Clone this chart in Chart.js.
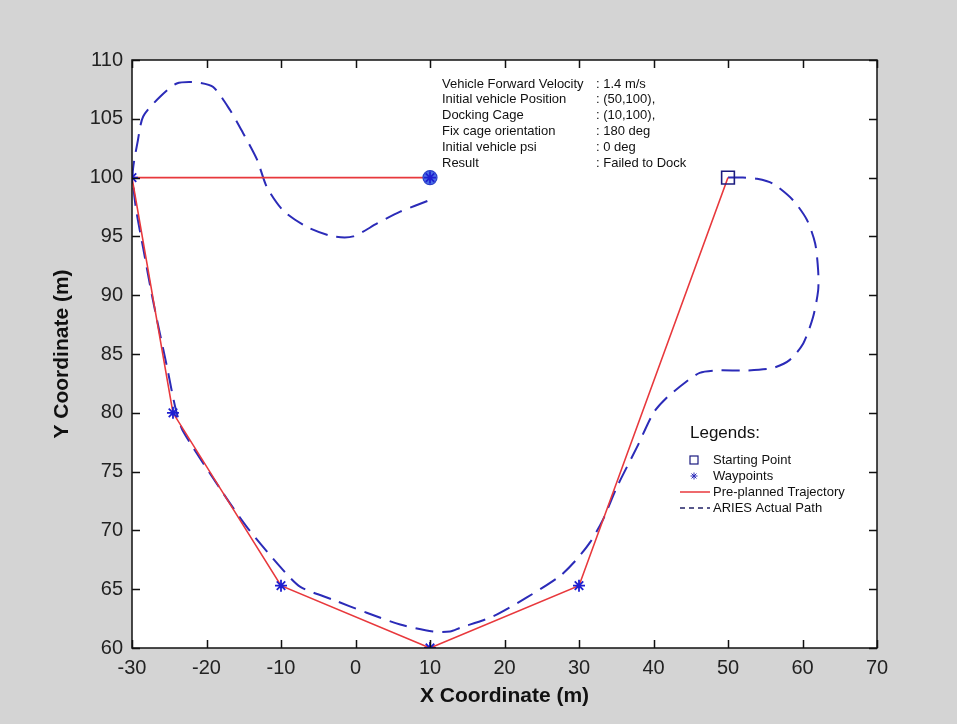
<!DOCTYPE html>
<html>
<head>
<meta charset="utf-8">
<title>ARIES docking run</title>
<script src="https://cdn.jsdelivr.net/npm/chart.js@4"></script>
<style>
  html, body { margin: 0; padding: 0; background: #d4d4d4; }
  #wrap { width: 957px; height: 724px; }
</style>
</head>
<body>
<div id="wrap"><canvas id="traj" width="957" height="724"></canvas></div>
<script>
// pre-planned trajectory (start -> waypoints -> docking cage)
var planX = [50, 30, 10, -10, -24.5, -30, 10];
var planY = [100, 65.3, 60, 65.3, 80, 100, 100];

// waypoints
var wayX = [30, 10, -10, -24.5, -30];
var wayY = [65.3, 60, 65.3, 80, 100];

var startX = [50], startY = [100];
var dockX = [10], dockY = [100];

// actual path logged by the vehicle
var pathX = [50, 52, 53.9, 56.0, 58.7, 60.6, 61.7, 62.1, 62.1, 61.4, 60.1, 58.3, 56.0, 52.5, 48.5, 46.2,
  44.3, 41.8, 40.0, 37.8, 35.1, 33.2, 31.5, 29.5, 27.4, 23.0, 18.5, 14.0, 12.7, 10.4, 6.0, 1.5, -3.0,
  -7.4, -10.1, -14.6, -17.8, -23.2, -24.2, -25.3, -27.2, -28.5, -29.5, -29.9, -29.2, -28.5, -26.2,
  -24.0, -21.3, -19.1, -16.8, -15.1, -13.2, -11.9, -9.7, -6.5, -3.0, -0.3, 2.9, 6.0, 10.0];
var pathY = [100, 100, 99.9, 99.5, 98.1, 96.4, 94.4, 92.1, 90.4, 88.1, 85.9, 84.5, 83.8, 83.6, 83.6, 83.4,
  82.6, 81.3, 80.0, 77.1, 73.7, 70.9, 69.0, 67.4, 66.1, 64.3, 62.7, 61.7, 61.4, 61.4, 62.0, 63.0, 64.1,
  65.2, 66.9, 70.3, 73.2, 78.5, 80.5, 83.9, 89.6, 94.0, 97.5, 100.4, 103.2, 105.2, 106.9,
  108.0, 108.1, 107.7, 105.7, 103.8, 101.5, 99.2, 97.2, 95.8, 95.0, 95.0, 96.1, 97.1, 98.1];

var xTicks = [-30, -20, -10, 0, 10, 20, 30, 40, 50, 60, 70];
var yTicks = [60, 65, 70, 75, 80, 85, 90, 95, 100, 105, 110];

var infoLabels = ['Vehicle Forward Velocity', 'Initial vehicle Position', 'Docking Cage',
  'Fix cage orientation', 'Initial vehicle psi', 'Result'];
var infoValues = [': 1.4 m/s', ': (50,100),', ': (10,100),', ': 180 deg', ': 0 deg', ': Failed to Dock'];

var legendLabels = ['Starting Point', 'Waypoints', 'Pre-planned Trajectory', 'ARIES Actual Path'];

function pts(xs, ys) {
  return xs.map(function (x, i) { return { x: x, y: ys[i] }; });
}

var FONT = "'Liberation Sans', Arial, sans-serif";
var BLUE = '#2b2bb8';
var RED = '#e8383c';

// figure background, axes box, inward ticks, text block and legend
var matlabLook = {
  id: 'matlabLook',
  beforeDraw: function (chart) {
    var ctx = chart.ctx, a = chart.chartArea;
    ctx.save();
    ctx.fillStyle = '#d4d4d4';
    ctx.fillRect(0, 0, chart.width, chart.height);
    ctx.fillStyle = '#ffffff';
    ctx.fillRect(a.left, a.top, a.right - a.left, a.bottom - a.top);
    ctx.restore();
  },
  afterDraw: function (chart) {
    var ctx = chart.ctx, a = chart.chartArea;
    var xs = chart.scales.x, ys = chart.scales.y;
    ctx.save();
    ctx.strokeStyle = '#111';
    ctx.lineWidth = 1.5;
    ctx.strokeRect(a.left, a.top, a.right - a.left, a.bottom - a.top);
    var tl = 8;
    ctx.beginPath();
    xTicks.forEach(function (v) {
      var px = Math.round(xs.getPixelForValue(v)) + 0.5;
      ctx.moveTo(px, a.bottom); ctx.lineTo(px, a.bottom - tl);
      ctx.moveTo(px, a.top); ctx.lineTo(px, a.top + tl);
    });
    yTicks.forEach(function (v) {
      var py = Math.round(ys.getPixelForValue(v)) + 0.5;
      ctx.moveTo(a.left, py); ctx.lineTo(a.left + tl, py);
      ctx.moveTo(a.right, py); ctx.lineTo(a.right - tl, py);
    });
    ctx.stroke();

    // axis titles
    ctx.fillStyle = '#111';
    ctx.font = 'bold 21px ' + FONT;
    ctx.textAlign = 'center';
    ctx.textBaseline = 'middle';
    ctx.fillText('X Coordinate (m)', (a.left + a.right) / 2, 696);
    ctx.save();
    ctx.translate(62, (a.top + a.bottom) / 2);
    ctx.rotate(-Math.PI / 2);
    ctx.fillText('Y Coordinate (m)', 0, 0);
    ctx.restore();

    // run parameters
    ctx.font = '13px ' + FONT;
    ctx.textAlign = 'left';
    infoLabels.forEach(function (t, i) {
      var y = 84 + i * 15.8;
      ctx.fillText(t, 442, y);
      ctx.fillText(infoValues[i], 596, y);
    });

    // legend
    ctx.font = '17px ' + FONT;
    ctx.fillText('Legends:', 690, 433);
    ctx.font = '13px ' + FONT;
    var rows = [460, 476, 492, 508];
    legendLabels.forEach(function (t, i) {
      ctx.fillText(t, 713, rows[i]);
    });
    // key: square
    ctx.strokeStyle = '#1c1c80';
    ctx.lineWidth = 1.2;
    ctx.strokeRect(690, rows[0] - 4, 8, 8);
    // key: star
    ctx.strokeStyle = BLUE;
    ctx.lineWidth = 1;
    ctx.beginPath();
    for (var k = 0; k < 4; k++) {
      var ang = k * Math.PI / 4;
      ctx.moveTo(694 - 3.5 * Math.cos(ang), rows[1] - 3.5 * Math.sin(ang));
      ctx.lineTo(694 + 3.5 * Math.cos(ang), rows[1] + 3.5 * Math.sin(ang));
    }
    ctx.stroke();
    // key: solid red
    ctx.strokeStyle = RED;
    ctx.lineWidth = 1.5;
    ctx.beginPath();
    ctx.moveTo(680, rows[2]); ctx.lineTo(710, rows[2]);
    ctx.stroke();
    // key: dashed blue
    ctx.strokeStyle = '#222266';
    ctx.setLineDash([5, 4]);
    ctx.beginPath();
    ctx.moveTo(680, rows[3]); ctx.lineTo(710, rows[3]);
    ctx.stroke();
    ctx.restore();
  }
};

new Chart(document.getElementById('traj'), {
  type: 'scatter',
  data: {
    datasets: [
      {
        label: 'ARIES Actual Path',
        data: pts(pathX, pathY),
        showLine: true,
        borderColor: BLUE,
        borderWidth: 2,
        borderDash: [18, 9],
        tension: 0.25,
        pointRadius: 0,
        order: 5
      },
      {
        label: 'Pre-planned Trajectory',
        data: pts(planX, planY),
        showLine: true,
        borderColor: RED,
        borderWidth: 1.6,
        tension: 0,
        pointRadius: 0,
        order: 4
      },
      {
        label: 'Docking Cage',
        data: pts(dockX, dockY),
        pointStyle: 'circle',
        pointRadius: 7,
        backgroundColor: '#4b6fe6',
        borderColor: '#2a3fc8',
        borderWidth: 1.2,
        order: 3
      },
      {
        label: 'Waypoints',
        data: pts(wayX.concat(dockX), wayY.concat(dockY)),
        pointStyle: 'star',
        pointRadius: 6,
        borderColor: '#1f1fd0',
        backgroundColor: '#1f1fd0',
        borderWidth: 1.8,
        order: 2
      },
      {
        label: 'Starting Point',
        data: pts(startX, startY),
        pointStyle: 'rect',
        pointRadius: 9,
        backgroundColor: 'rgba(255,255,255,0)',
        borderColor: '#1c1c80',
        borderWidth: 1.6,
        order: 1
      }
    ]
  },
  options: {
    responsive: false,
    animation: false,
    layout: { padding: { left: 0, top: 60, right: 80, bottom: 0 } },
    plugins: {
      legend: { display: false },
      tooltip: { enabled: false }
    },
    scales: {
      x: {
        type: 'linear',
        min: -30, max: 70,
        afterBuildTicks: function (s) { s.ticks = xTicks.map(function (v) { return { value: v }; }); },
        afterFit: function (s) { s.height = 76; },
        grid: { display: false, drawTicks: false },
        border: { display: false },
        ticks: { color: '#222', padding: 8, font: { family: FONT, size: 20 }, maxRotation: 0 }
      },
      y: {
        type: 'linear',
        min: 60, max: 110,
        afterBuildTicks: function (s) { s.ticks = yTicks.map(function (v) { return { value: v }; }); },
        afterFit: function (s) { s.width = 132; },
        grid: { display: false, drawTicks: false },
        border: { display: false },
        ticks: { color: '#222', padding: 9, font: { family: FONT, size: 20 } }
      }
    }
  },
  plugins: [matlabLook]
});
</script>
</body>
</html>
